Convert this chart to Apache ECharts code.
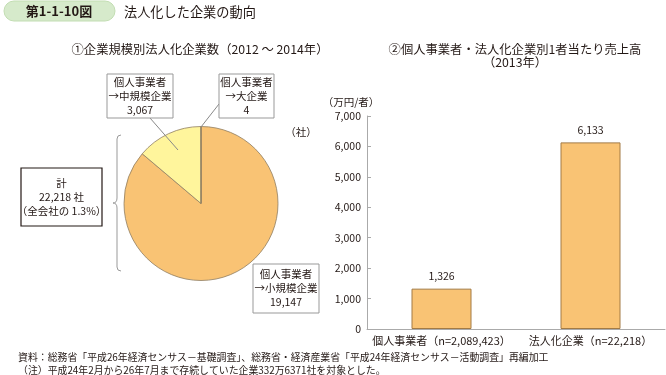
<!DOCTYPE html>
<html><head><meta charset="utf-8">
<script src="https://cdn.jsdelivr.net/npm/echarts@6/dist/echarts.min.js"></script>
<style>html,body{margin:0;padding:0;background:#fff}#c{width:666px;height:375px}</style>
</head><body><div id="c"></div>
<script>
// ---- data ----
const pieNames = ['個人事業者\n→小規模企業', '個人事業者\n→中規模企業', '個人事業者\n→大企業'];
const pieValues = [19147, 3067, 4];
const pieTotal = 22218;
const pieShare = '1.3%';
const barCategories = ['個人事業者（n=2,089,423）', '法人化企業（n=22,218）'];
const barValues = [1326, 6133];
const yTicks = [0, 1000, 2000, 3000, 4000, 5000, 6000, 7000];

const FONT = '"Noto Sans CJK JP", "Noto Sans", sans-serif';
const TXT = '#231815';
const fmt = v => v.toLocaleString('en-US');

const chart = echarts.init(document.getElementById('c'), null, {renderer: 'canvas'});

function box(x, y, w, h, lines, stroke, lw) {
  return [
    {type: 'rect', shape: {x: x, y: y, width: w, height: h}, style: {fill: '#fff', stroke: stroke, lineWidth: lw}, z: 10},
    {type: 'text', x: x + w / 2, y: y + h / 2, z: 11,
      style: {text: lines.join('\n'), font: '10.5px ' + FONT, fill: TXT, align: 'center', verticalAlign: 'middle', lineHeight: 14}}
  ];
}
function bz(x1, y1, cx, cy, x2, y2) {
  return {type: 'bezierCurve', shape: {x1: x1, y1: y1, cpx1: cx, cpy1: cy, x2: x2, y2: y2}, style: {stroke: '#999', lineWidth: 1, fill: null}};
}
function ln(x1, y1, x2, y2, c) {
  return {type: 'line', shape: {x1: x1, y1: y1, x2: x2, y2: y2}, style: {stroke: c || '#999', lineWidth: 1}, z: 5};
}

const graphics = [].concat(
  [
    {type: 'rect', shape: {x: 4, y: 1, width: 111, height: 20, r: 10}, style: {fill: '#d6eacb', stroke: '#c2ddb2', lineWidth: 1}},
    {type: 'text', x: 59, y: 11.5, style: {text: '第1-1-10図', font: 'bold 13px ' + FONT, fill: TXT, align: 'center', verticalAlign: 'middle'}},
    {type: 'text', x: 124, y: 11.5, style: {text: '法人化した企業の動向', font: '13.2px ' + FONT, fill: TXT, align: 'left', verticalAlign: 'middle'}},
    {type: 'text', x: 200, y: 49, style: {text: '①企業規模別法人化企業数（2012 ～ 2014年）', font: '12.3px ' + FONT, fill: TXT, align: 'center', verticalAlign: 'middle'}},
    {type: 'text', x: 515, y: 49, style: {text: '②個人事業者・法人化企業別1者当たり売上高', font: '12.3px ' + FONT, fill: TXT, align: 'center', verticalAlign: 'middle'}},
    {type: 'text', x: 515, y: 62, style: {text: '（2013年）', font: '12.3px ' + FONT, fill: TXT, align: 'center', verticalAlign: 'middle'}},
    {type: 'text', x: 301, y: 132, style: {text: '（社）', font: '10.5px ' + FONT, fill: TXT, align: 'center', verticalAlign: 'middle'}},
    {type: 'text', x: 351, y: 102, style: {text: '（万円/者）', font: '10.5px ' + FONT, fill: TXT, align: 'center', verticalAlign: 'middle'}},
    // leader lines
    ln(150, 118, 178, 150, '#888'),
    ln(219, 104, 201, 127, '#888'),
    // brace
    bz(121, 135, 117, 135, 117, 139),
    ln(117, 139, 117, 198),
    bz(117, 198, 117, 203, 113, 203),
    bz(113, 203, 117, 203, 117, 208),
    ln(117, 208, 117, 267),
    bz(117, 267, 117, 271, 121, 271),
    // footnotes
    {type: 'text', x: 18, y: 357, style: {text: '資料：総務省「平成26年経済センサス－基礎調査」、総務省・経済産業省「平成24年経済センサス－活動調査」再編加工', font: '9.9px ' + FONT, fill: TXT, align: 'left', verticalAlign: 'middle'}},
    {type: 'text', x: 18, y: 370, style: {text: '（注）平成24年2月から26年7月まで存続していた企業332万6371社を対象とした。', font: '9.9px ' + FONT, fill: TXT, align: 'left', verticalAlign: 'middle'}}
  ],
  box(107, 74, 66, 44, [pieNames[1].split('\n')[0], pieNames[1].split('\n')[1], fmt(pieValues[1])], '#999', 1),
  box(219, 74, 55, 44, [pieNames[2].split('\n')[0], pieNames[2].split('\n')[1], fmt(pieValues[2])], '#999', 1),
  box(253, 264, 66, 49, [pieNames[0].split('\n')[0], pieNames[0].split('\n')[1], fmt(pieValues[0])], '#999', 1),
  box(21, 168, 81, 58, ['計', fmt(pieTotal) + ' 社', '（全会社の ' + pieShare + '）'], '#231815', 1.2)
);

chart.setOption({
  animation: false,
  textStyle: {fontFamily: FONT},
  graphic: graphics,
  grid: {left: 367, right: 1, top: 116, bottom: 46},
  xAxis: {
    type: 'category', data: barCategories,
    axisLine: {lineStyle: {color: '#aaa', width: 1}},
    axisTick: {inside: true, length: 4, lineStyle: {color: '#aaa'}},
    axisLabel: {color: TXT, fontSize: 11, margin: 6, fontFamily: FONT, interval: 0, hideOverlap: false}
  },
  yAxis: {
    type: 'value', min: 0, max: 7000, interval: 1000,
    axisLine: {show: true, lineStyle: {color: '#aaa', width: 1}},
    axisTick: {show: true, inside: true, length: 4, lineStyle: {color: '#aaa'}},
    splitLine: {show: false},
    axisLabel: {color: TXT, fontSize: 10.5, margin: 6, fontFamily: FONT, formatter: v => fmt(v)}
  },
  series: [
    {
      type: 'pie', center: [201, 203.5], radius: 77, startAngle: 90, clockwise: true,
      silent: true,
      label: {show: false}, labelLine: {show: false},
      itemStyle: {borderColor: '#8f7d62', borderWidth: 0.8},
      data: pieValues.map((v, i) => ({value: v, name: pieNames[i],
        itemStyle: {color: ['#f9c374', '#fff59c', '#fff59c'][i]}}))
    },
    {
      type: 'bar', data: barValues, barWidth: 60,
      itemStyle: {color: '#f9c374', borderColor: '#a37b45', borderWidth: 1},
      label: {show: true, position: 'top', distance: 7, color: TXT, fontSize: 10.5, fontFamily: FONT, formatter: p => fmt(p.value)}
    }
  ]
});
</script></body></html>
